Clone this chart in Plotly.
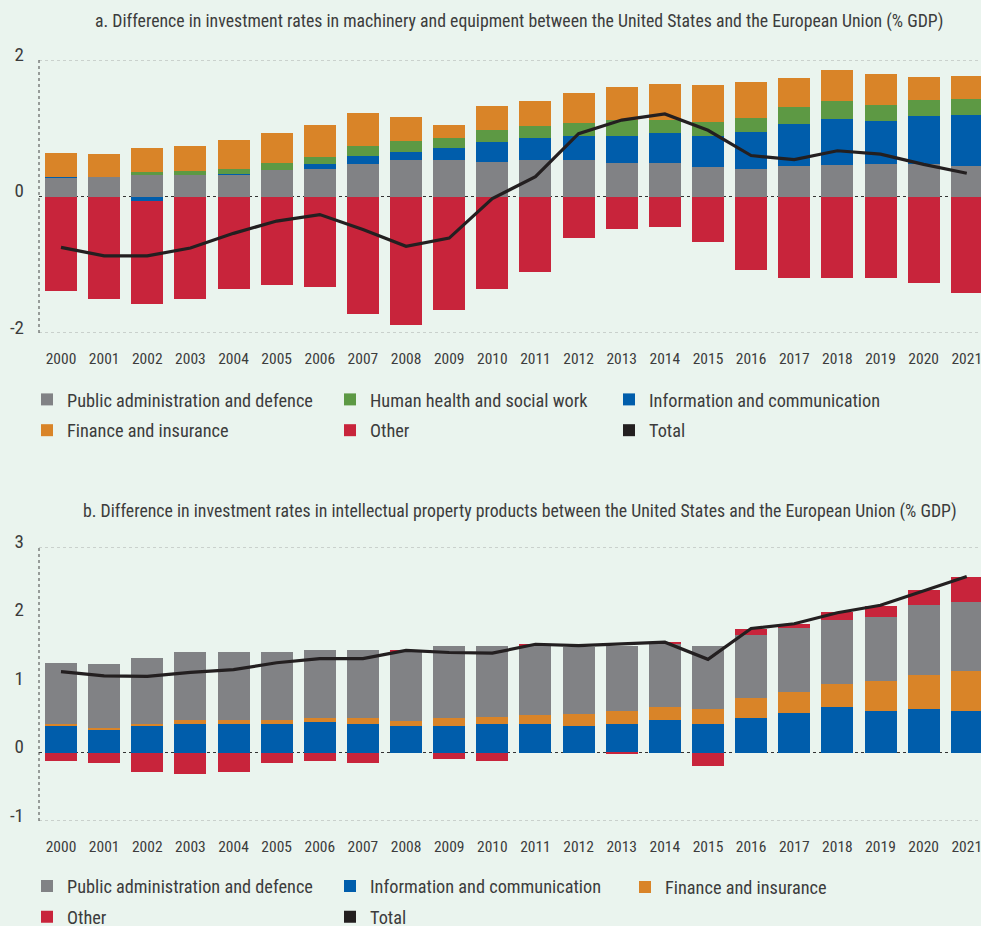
import plotly.graph_objects as go
from plotly.subplots import make_subplots

years = list(range(2000, 2022))

# Panel a: machinery and equipment (% GDP)
a_public = [0.28, 0.29, 0.32, 0.31, 0.32, 0.39, 0.41, 0.47, 0.53, 0.53, 0.51, 0.53, 0.54, 0.485, 0.485, 0.43, 0.41, 0.44, 0.455, 0.47, 0.47, 0.44]
a_info = [0.01, 0.0, -0.06, 0.0, 0.015, 0.0, 0.07, 0.12, 0.12, 0.18, 0.29, 0.32, 0.35, 0.40, 0.44, 0.455, 0.53, 0.62, 0.68, 0.63, 0.71, 0.75]
a_health = [0.0, 0.0, 0.045, 0.06, 0.07, 0.10, 0.10, 0.15, 0.16, 0.15, 0.18, 0.18, 0.19, 0.235, 0.19, 0.21, 0.21, 0.25, 0.265, 0.235, 0.235, 0.235]
a_finance = [0.35, 0.34, 0.34, 0.37, 0.42, 0.44, 0.47, 0.485, 0.35, 0.19, 0.35, 0.37, 0.44, 0.485, 0.53, 0.54, 0.53, 0.43, 0.455, 0.455, 0.34, 0.34]
a_other = [-1.39, -1.50, -1.51, -1.50, -1.36, -1.30, -1.32, -1.72, -1.88, -1.66, -1.36, -1.10, -0.61, -0.48, -0.44, -0.67, -1.08, -1.20, -1.20, -1.19, -1.27, -1.42]
a_total = [-0.745, -0.87, -0.87, -0.755, -0.54, -0.36, -0.265, -0.485, -0.73, -0.61, -0.03, 0.29, 0.92, 1.12, 1.21, 0.97, 0.60, 0.54, 0.67, 0.62, 0.47, 0.34]

# Panel b: intellectual property products (% GDP)
b_info = [0.39, 0.335, 0.39, 0.42, 0.42, 0.42, 0.45, 0.42, 0.39, 0.39, 0.42, 0.42, 0.38, 0.42, 0.48, 0.41, 0.51, 0.58, 0.66, 0.61, 0.63, 0.61]
b_finance = [0.03, 0.03, 0.03, 0.06, 0.06, 0.06, 0.06, 0.09, 0.07, 0.12, 0.10, 0.13, 0.175, 0.19, 0.19, 0.23, 0.28, 0.31, 0.34, 0.44, 0.50, 0.58]
b_public = [0.88, 0.92, 0.96, 0.98, 0.99, 0.98, 0.98, 0.99, 1.02, 1.04, 1.04, 1.01, 0.99, 0.95, 0.92, 0.92, 0.92, 0.93, 0.93, 0.93, 1.02, 1.01]
b_other = [-0.12, -0.16, -0.29, -0.31, -0.28, -0.16, -0.13, -0.15, 0.015, -0.09, -0.12, 0.015, 0.0, -0.015, 0.015, -0.20, 0.10, 0.06, 0.12, 0.16, 0.22, 0.365]
b_total = [1.18, 1.12, 1.11, 1.17, 1.21, 1.31, 1.37, 1.37, 1.49, 1.46, 1.45, 1.58, 1.56, 1.58, 1.61, 1.36, 1.81, 1.88, 2.04, 2.15, 2.36, 2.57]

title_a = "a. Difference in investment rates in machinery and equipment between the United States and the European Union (% GDP)"
title_b = "b. Difference in investment rates in intellectual property products between the United States and the European Union (% GDP)"

C_GRAY = "#818285"
C_BLUE = "#005DAB"
C_GREEN = "#5D9944"
C_ORANGE = "#D98428"
C_RED = "#C8243B"
C_BLACK = "#231F20"
BG = "#EAF4EE"
TXT = "#3C3C3C"
FONT = "Roboto Condensed, Liberation Sans Narrow, sans-serif"

W, H = 981, 926
ML, MR, MT, MB = 39, 0, 60, 105
PW = W - ML - MR
PH = H - MT - MB

def px_x(px):
    return (px - ML) / PW

def px_y(py):
    return (H - MB - py) / PH

fig = make_subplots(rows=2, cols=1, vertical_spacing=0.0)
BW = 0.742
_gid = [0]

def bar(x, y, name, color, row, legend, show=True):
    _gid[0] += 1
    fig.add_trace(go.Bar(x=x, y=y, name=name, marker=dict(color=color, line=dict(width=0)),
                         width=BW, legend=legend, showlegend=show, legendgroup="g%d" % _gid[0]),
                  row=row, col=1)

# Panel a
bar(years, a_public, "Public administration and defence", C_GRAY, 1, "legend")
bar(years, a_info, "Information and communication", C_BLUE, 1, "legend3")
bar(years, a_health, "Human health and social work", C_GREEN, 1, "legend2")
bar(years, a_finance, "Finance and insurance", C_ORANGE, 1, "legend")
bar(years, a_other, "Other", C_RED, 1, "legend2")
fig.add_trace(go.Scatter(x=years, y=a_total, mode="lines", name="Total", line=dict(color=C_BLACK, width=3.2),
                         showlegend=False), row=1, col=1)
bar([None], [None], "Total", C_BLACK, 1, "legend3")

# Panel b
bar(years, b_info, "Information and communication", C_BLUE, 2, "legend5")
bar(years, b_finance, "Finance and insurance", C_ORANGE, 2, "legend6")
bar(years, b_public, "Public administration and defence", C_GRAY, 2, "legend4")
bar(years, b_other, "Other", C_RED, 2, "legend4")
fig.add_trace(go.Scatter(x=years, y=b_total, mode="lines", name="Total", line=dict(color=C_BLACK, width=3.2),
                         showlegend=False), row=2, col=1)
bar([None], [None], "Total", C_BLACK, 2, "legend5")

top_dom = [px_y(333), 1.0]
bot_dom = [0.0, px_y(547)]

xcommon = dict(range=[1999.49, 2021.33], tickvals=years, ticktext=[str(y) for y in years],
               showgrid=False, zeroline=False, showline=False, ticks="", ticklabelstandoff=14,
               ticklabeloverflow="allow", automargin=False,
               tickfont=dict(family=FONT, size=15.5, color=TXT), fixedrange=True)
ycommon = dict(showgrid=False, zeroline=False, showline=False, ticks="", ticklabelstandoff=14,
               ticklabelshift=-6, automargin=False, tickfont=dict(family=FONT, size=19, color=TXT))

fig.update_xaxes(**xcommon)
fig.update_yaxes(**ycommon)
fig.update_yaxes(range=[-2, 2], tickvals=[-2, 0, 2], ticktext=["-2", "0", "2"], domain=top_dom, row=1, col=1)
fig.update_yaxes(range=[-1, 3], tickvals=[-1, 0, 1, 2, 3], ticktext=["-1", "0", "1", "2", "3"], domain=bot_dom, row=2, col=1)

shapes = []
for xr, yr, ylo, yhi in [("x", "y", -2, 2), ("x2", "y2", -1, 3)]:
    for yv in (ylo, yhi):
        shapes.append(dict(type="line", xref=xr + " domain", yref=yr, x0=0, x1=1, y0=yv, y1=yv,
                           line=dict(color="#A9ADAB", width=1, dash="dot"), layer="below"))
    shapes.append(dict(type="line", xref=xr + " domain", yref=yr, x0=0, x1=1, y0=0, y1=0,
                       line=dict(color="#333333", width=1, dash="dot"), layer="below"))
    shapes.append(dict(type="line", xref=xr + " domain", yref=yr + " domain", x0=0, x1=0, y0=0, y1=1,
                       line=dict(color="#444444", width=1, dash="dot"), layer="below"))

annotations = [
    dict(text=title_a, xref="paper", yref="paper", x=px_x(519), y=px_y(21), xanchor="center", yanchor="middle",
         showarrow=False, font=dict(family=FONT, size=17.8, color=TXT)),
    dict(text=title_b, xref="paper", yref="paper", x=px_x(520), y=px_y(511), xanchor="center", yanchor="middle",
         showarrow=False, font=dict(family=FONT, size=17.8, color=TXT)),
]

def leg(px_left, py_center):
    return dict(xref="container", yref="container", x=px_left / W, y=(H - py_center) / H,
                xanchor="left", yanchor="middle", orientation="v",
                bgcolor="rgba(0,0,0,0)", borderwidth=0, tracegroupgap=4,
                font=dict(family=FONT, size=18.3, color=TXT), itemclick=False, itemdoubleclick=False)

fig.update_layout(
    width=W, height=H, margin=dict(l=ML, r=MR, t=MT, b=MB, autoexpand=False),
    paper_bgcolor=BG, plot_bgcolor=BG, barmode="relative", bargap=0,
    shapes=shapes, annotations=annotations,
    font=dict(family=FONT, color=TXT),
    legend=leg(27, 415), legend2=leg(330, 415), legend3=leg(609, 415),
    legend4=leg(27, 901.5), legend5=leg(330, 901.5), legend6=leg(625, 887),
    hovermode=False,
)

fig.write_html("out.html", config={"displayModeBar": False},
               post_script="document.body.style.margin='0';")
